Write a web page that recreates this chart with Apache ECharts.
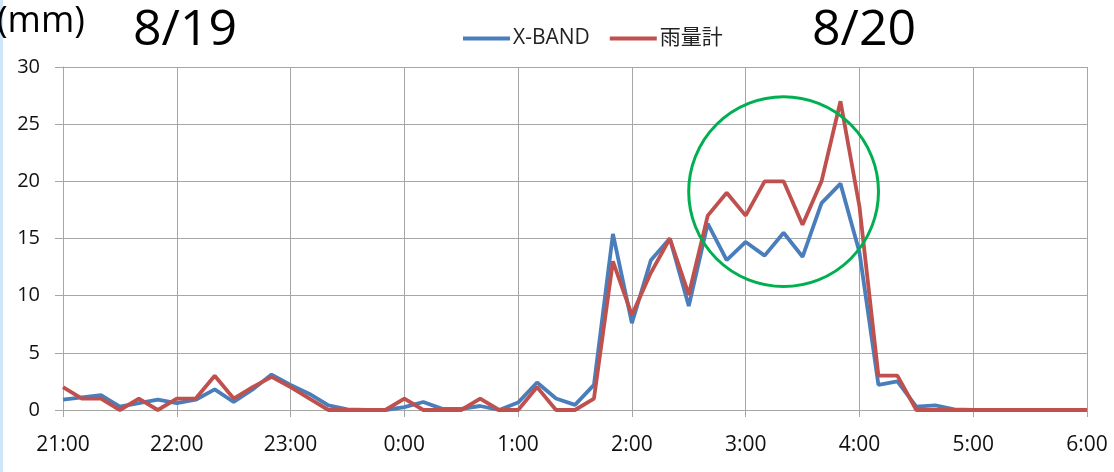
<!DOCTYPE html>
<html>
<head>
<meta charset="utf-8">
<script src="https://cdn.jsdelivr.net/npm/echarts@6/dist/echarts.min.js"></script>
<style>
  html, body { margin: 0; padding: 0; background: #ffffff; }
  #chart { width: 1114px; height: 472px; }
</style>
</head>
<body>
<div id="chart"></div>
<script>
// Ten-minute time steps from 21:00 (8/19) to 6:00 (8/20)
const times = [
  '21:00','21:10','21:20','21:30','21:40','21:50',
  '22:00','22:10','22:20','22:30','22:40','22:50',
  '23:00','23:10','23:20','23:30','23:40','23:50',
  '0:00','0:10','0:20','0:30','0:40','0:50',
  '1:00','1:10','1:20','1:30','1:40','1:50',
  '2:00','2:10','2:20','2:30','2:40','2:50',
  '3:00','3:10','3:20','3:30','3:40','3:50',
  '4:00','4:10','4:20','4:30','4:40','4:50',
  '5:00','5:10','5:20','5:30','5:40','5:50',
  '6:00'
];

// Radar (X-BAND) rainfall, mm per 10 min
const xband = [
  0.9, 1.1, 1.3, 0.3, 0.6, 0.9,
  0.6, 0.9, 1.8, 0.7, 1.8, 3.1,
  2.2, 1.4, 0.4, 0.05, 0, 0,
  0.25, 0.7, 0.1, 0.1, 0.35, 0,
  0.65, 2.4, 1.0, 0.45, 2.2, 15.4,
  7.6, 13.1, 15.0, 9.1, 16.3, 13.1,
  14.7, 13.5, 15.5, 13.4, 18.1, 19.8,
  13.8, 2.2, 2.5, 0.3, 0.4, 0.05,
  0, 0, 0, 0, 0, 0,
  0
];

// Rain gauge (雨量計) rainfall, mm per 10 min
const gauge = [
  2, 1, 1, 0, 1, 0,
  1, 1, 3, 1, 2, 2.9,
  2, 1, 0, 0, 0, 0,
  1, 0, 0, 0, 1, 0,
  0, 2, 0, 0, 1, 13,
  8.3, 12, 15, 10.1, 17, 19,
  17, 20, 20, 16.2, 20, 27,
  17.8, 3, 3, 0, 0, 0,
  0, 0, 0, 0, 0, 0,
  0
];

const seriesNames = ['X-BAND', '雨量計'];
const yTicks = { min: 0, max: 30, interval: 5 };

// Highlighted window (centre in data terms, radius in mm)
const focusCenter = { index: 38.3, value: 19.1 };
const focusRadius = 8.3;

const gridColor = '#a6a6a6';
const textColor = '#111111';
const latin = '"Open Sans", "Noto Sans CJK JP"';
const chart = echarts.init(document.getElementById('chart'));

chart.setOption({
  animation: false,
  backgroundColor: '#ffffff',
  grid: { left: 63, right: 27, top: 67, bottom: 62 },
  legend: {
    left: 458, top: 23,
    itemWidth: 47, itemHeight: 4, itemGap: 20,
    icon: 'rect',
    textStyle: { fontFamily: latin, fontSize: 21, color: '#222', padding: [0, 0, 0, -2] },
    data: seriesNames
  },
  xAxis: {
    type: 'category',
    data: times,
    boundaryGap: false,
    axisLine: { lineStyle: { color: gridColor, width: 1 } },
    axisTick: { show: true, interval: 5, length: 7, lineStyle: { color: gridColor } },
    axisLabel: { interval: 5, color: textColor, fontFamily: 'Open Sans', fontSize: 21, margin: 25 },
    splitLine: { show: true, interval: 5, lineStyle: { color: gridColor, width: 1 } }
  },
  yAxis: {
    type: 'value',
    min: yTicks.min, max: yTicks.max, interval: yTicks.interval,
    axisLine: { show: true, lineStyle: { color: gridColor } },
    axisTick: { show: true, length: 8, lineStyle: { color: gridColor } },
    axisLabel: { color: textColor, fontFamily: 'Open Sans', fontSize: 20, margin: 23 },
    splitLine: { show: true, lineStyle: { color: gridColor, width: 1 } }
  },
  series: [
    {
      name: seriesNames[0], type: 'line', data: xband,
      showSymbol: false, symbol: 'none',
      lineStyle: { color: '#4a7ebb', width: 3.8 },
      itemStyle: { color: '#4a7ebb' }
    },
    {
      name: seriesNames[1], type: 'line', data: gauge,
      showSymbol: false, symbol: 'none',
      lineStyle: { color: '#c0504d', width: 3.8 },
      itemStyle: { color: '#c0504d' }
    }
  ]
});

// Place the annotation circle and header texts
const c = chart.convertToPixel({ gridIndex: 0 }, [focusCenter.index, focusCenter.value]);
const c2 = chart.convertToPixel({ gridIndex: 0 }, [focusCenter.index, focusCenter.value + focusRadius]);
const r = c[1] - c2[1];

chart.setOption({
  graphic: [
    {
      type: 'circle', shape: { cx: c[0], cy: c[1], r: r },
      style: { fill: null, stroke: '#00b050', lineWidth: 3 }, z: 10
    },
    {
      type: 'rect', shape: { x: 0, y: 0, width: 3, height: 472 },
      style: { fill: '#cfe6f8' }, z: 0
    },
    {
      type: 'text', left: -3, top: 4,
      style: { text: '(mm)', font: '36px "Open Sans"', fill: '#000' }
    },
    {
      type: 'text', left: 133, top: 6,
      style: { text: '8/19', font: '50px "Open Sans"', fill: '#000' }
    },
    {
      type: 'text', left: 812, top: 6,
      style: { text: '8/20', font: '50px "Open Sans"', fill: '#000' }
    }
  ]
});
</script>
</body>
</html>
